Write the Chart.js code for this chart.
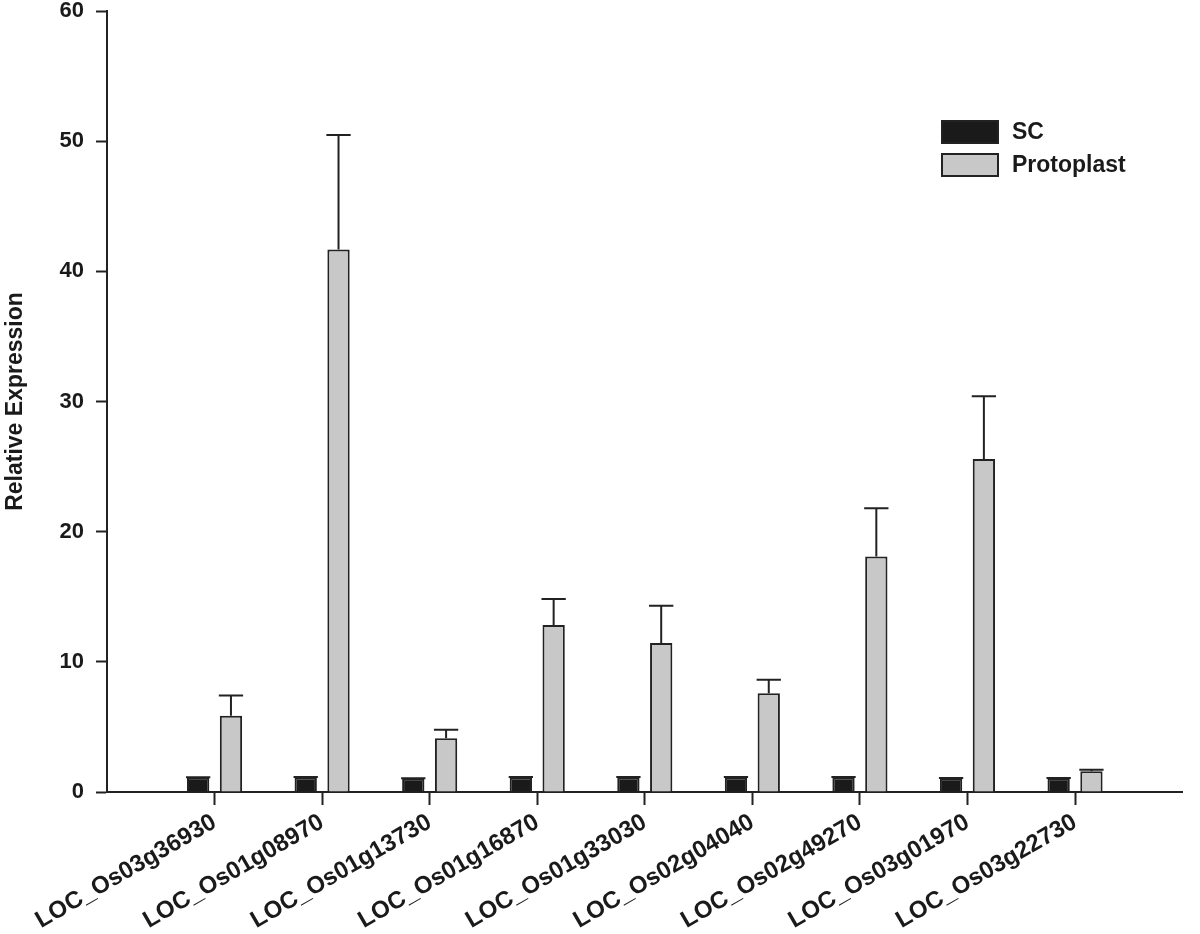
<!DOCTYPE html>
<html>
<head>
<meta charset="utf-8">
<script src="https://cdn.jsdelivr.net/npm/chart.js@4"></script>
<style>
  body { margin: 0; background: #fff; }
  canvas { display: block; }
</style>
</head>
<body>
<canvas id="chart" width="1200" height="934"></canvas>
<script>
const genes = ['LOC_Os03g36930', 'LOC_Os01g08970', 'LOC_Os01g13730', 'LOC_Os01g16870',
    'LOC_Os01g33030', 'LOC_Os02g04040', 'LOC_Os02g49270', 'LOC_Os03g01970', 'LOC_Os03g22730'];
const scValues = [1.1, 1.12, 1.02, 1.12, 1.12, 1.12, 1.12, 1.05, 1.05];
const scErrors = [0.03, 0.03, 0.03, 0.03, 0.03, 0.03, 0.03, 0.03, 0.03];
const protoValues = [5.85, 41.67, 4.12, 12.83, 11.45, 7.58, 18.1, 25.58, 1.6];
const protoErrors = [1.57, 8.8, 0.67, 2.0, 2.85, 1.05, 3.7, 4.83, 0.1];
const yTicks = [0, 10, 20, 30, 40, 50, 60];

// empty slot at each end so the axis runs one band past the first/last gene
const pad = arr => [null, ...arr, null];

const fontFamily = 'Liberation Sans, Arial, sans-serif';

const errorBars = {
    id: 'errorBars',
    afterDatasetsDraw(chart) {
        const ctx = chart.ctx;
        const y = chart.scales.y;
        const errs = [pad(scErrors), pad(protoErrors)];
        chart.data.datasets.forEach((ds, i) => {
            chart.getDatasetMeta(i).data.forEach((bar, j) => {
                const v = ds.data[j];
                const e = errs[i][j];
                if (v == null || e == null) return;
                const top = y.getPixelForValue(v + e);
                const half = bar.width / 2 + 1;
                ctx.save();
                ctx.strokeStyle = '#222';
                ctx.lineWidth = 2;
                ctx.beginPath();
                ctx.moveTo(bar.x, bar.y);
                ctx.lineTo(bar.x, top);
                ctx.moveTo(bar.x - half, top);
                ctx.lineTo(bar.x + half, top);
                ctx.stroke();
                ctx.restore();
            });
        });
    }
};

const boxLegend = {
    id: 'boxLegend',
    afterDraw(chart) {
        const ctx = chart.ctx;
        const x = 942, y0 = 121;
        ctx.save();
        chart.data.datasets.forEach((ds, i) => {
            const y = y0 + i * 33;
            ctx.fillStyle = ds.backgroundColor;
            ctx.fillRect(x, y, 56, 22);
            ctx.strokeStyle = '#222';
            ctx.lineWidth = 2;
            ctx.strokeRect(x, y, 56, 22);
            ctx.fillStyle = '#1a1a1a';
            ctx.font = 'bold 23px ' + fontFamily;
            ctx.textBaseline = 'middle';
            ctx.fillText(ds.label, x + 70, y + 12);
        });
        ctx.restore();
    }
};

new Chart(document.getElementById('chart'), {
    type: 'bar',
    data: {
        labels: ['', ...genes, ''],
        datasets: [
            {
                label: 'SC',
                data: pad(scValues),
                backgroundColor: '#1a1a1a',
                borderColor: '#222',
                borderWidth: 2
            },
            {
                label: 'Protoplast',
                data: pad(protoValues),
                backgroundColor: '#c8c8c8',
                borderColor: '#222',
                borderWidth: 2
            }
        ]
    },
    options: {
        responsive: false,
        animation: false,
        devicePixelRatio: 1,
        layout: { padding: { top: 11, right: 7, left: 0, bottom: 0 } },
        categoryPercentage: 0.61,
        barPercentage: 0.68,
        plugins: {
            legend: { display: false },
            tooltip: { enabled: false }
        },
        scales: {
            x: {
                offset: false,
                afterFit(scale) { scale.height = 142; },
                grid: {
                    offset: false,
                    drawOnChartArea: false,
                    tickLength: 13,
                    tickWidth: 2,
                    tickColor: c => (c.index === 0 || c.index === genes.length + 1) ? 'rgba(0,0,0,0)' : '#222'
                },
                border: { color: '#222', width: 2 },
                ticks: {
                    minRotation: 30,
                    maxRotation: 30,
                    autoSkip: false,
                    padding: 3,
                    color: '#1a1a1a',
                    font: { family: fontFamily, size: 24, weight: 'bold' }
                }
            },
            y: {
                min: 0,
                max: 60,
                afterFit(scale) {
                    scale.width = 107;
                    scale.paddingTop = 0;
                    scale.paddingBottom = 0;
                },
                afterBuildTicks(scale) { scale.ticks = yTicks.map(v => ({ value: v })); },
                grid: {
                    drawOnChartArea: false,
                    tickLength: 11,
                    tickWidth: 2,
                    tickColor: '#222'
                },
                border: { color: '#222', width: 2 },
                ticks: {
                    padding: 12,
                    color: '#1a1a1a',
                    font: { family: fontFamily, size: 22, weight: 'bold' }
                },
                title: {
                    display: true,
                    text: 'Relative Expression',
                    color: '#1a1a1a',
                    font: { family: fontFamily, size: 23, weight: 'bold' },
                    padding: { top: 2, bottom: 0 }
                }
            }
        }
    },
    plugins: [errorBars, boxLegend]
});
</script>
</body>
</html>
